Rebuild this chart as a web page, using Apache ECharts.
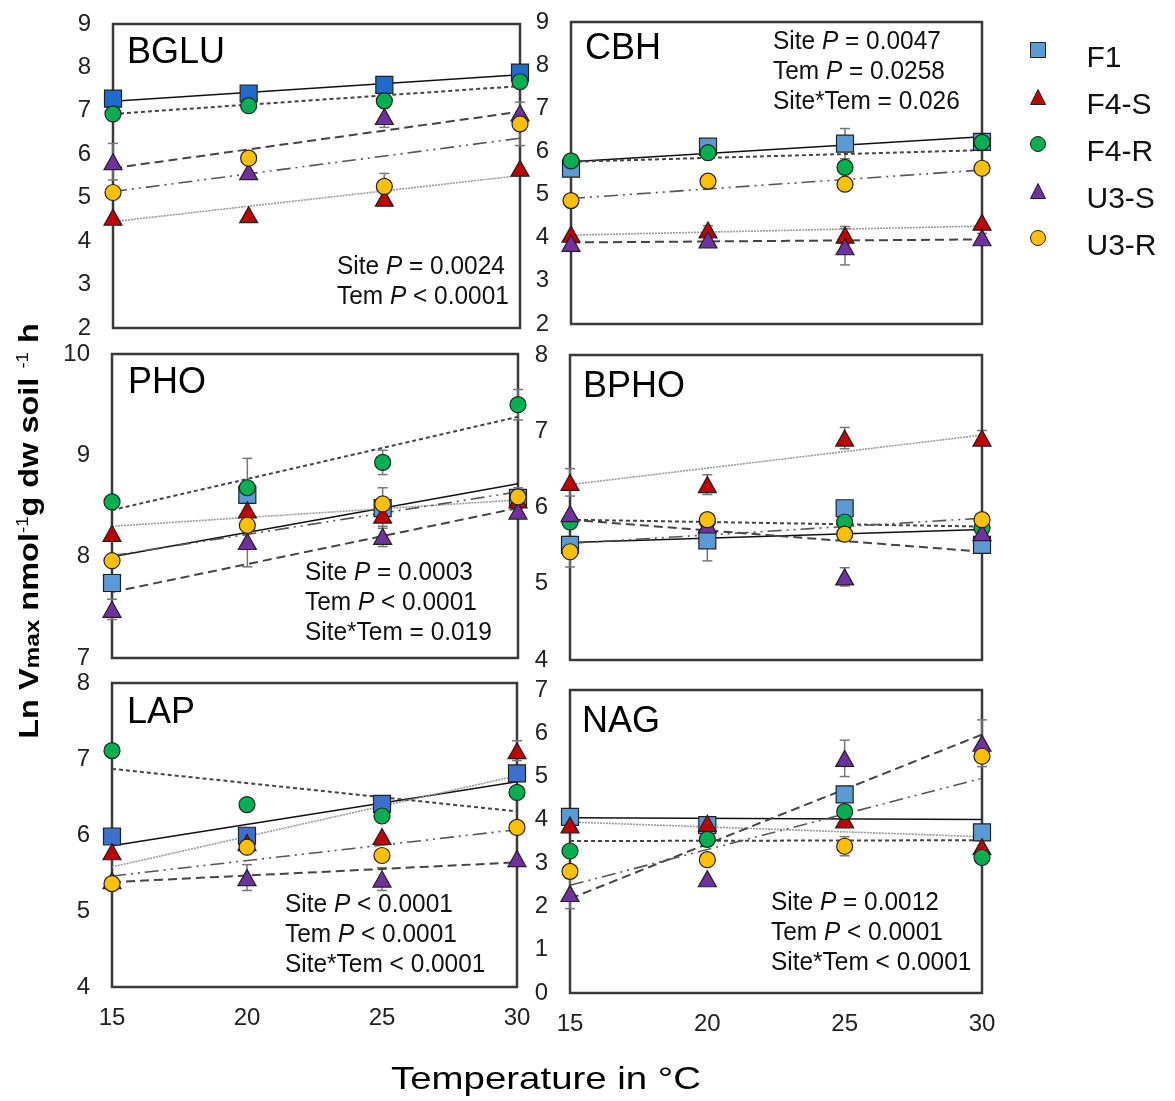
<!DOCTYPE html>
<html>
<head>
<meta charset="utf-8">
<title>Ln Vmax vs temperature</title>
<script src="https://cdn.jsdelivr.net/npm/echarts@6/dist/echarts.min.js"></script>
<style>
  html, body { margin: 0; padding: 0; background: #fff; }
  #chart { width: 1175px; height: 1101px; }
</style>
</head>
<body>
<div id="chart"></div>
<script>
const temps = [15, 20, 25, 30];
const sites = ['F1', 'F4-S', 'F4-R', 'U3-S', 'U3-R'];

// rows follow sites: F1, F4-S, F4-R, U3-S, U3-R ; columns follow temps
const bgluMean = [
  [7.28, 7.40, 7.60, 7.88],
  [4.55, 4.61, 4.99, 5.68],
  [6.93, 7.12, 7.23, 7.67],
  [5.83, 5.60, 6.87, 6.95],
  [5.12, 5.91, 5.26, 6.70]
];
const bgluErr = [
  [0, 0, 0, 0],
  [0, 0, 0.1, 0],
  [0, 0, 0, 0],
  [0.42, 0, 0.25, 0],
  [0, 0, 0.3, 0.5]
];
const bgluFit = [[7.22, 7.83], [4.45, 5.51], [6.93, 7.57], [5.68, 6.98], [5.14, 6.37]];

const cbhMean = [
  [5.60, 6.11, 6.18, 6.22],
  [4.08, 4.18, 4.06, 4.36],
  [5.78, 5.97, 5.63, 6.21],
  [3.87, 3.95, 3.79, 4.00],
  [4.86, 5.31, 5.24, 5.61]
];
const cbhErr = [
  [0, 0, 0.35, 0],
  [0, 0.1, 0.2, 0],
  [0, 0, 0, 0],
  [0, 0.15, 0.42, 0.1],
  [0, 0, 0, 0]
];
const cbhFit = [[5.76, 6.34], [4.06, 4.27], [5.76, 6.03], [3.89, 3.96], [4.91, 5.57]];

const phoMean = [
  [7.74, 8.61, 8.48, 8.58],
  [8.23, 8.46, 8.41, 8.56],
  [8.54, 8.68, 8.93, 9.50],
  [7.48, 8.15, 8.20, 8.45],
  [7.96, 8.31, 8.52, 8.59]
];
const phoErr = [
  [0, 0.36, 0.2, 0.1],
  [0, 0, 0, 0],
  [0, 0, 0.12, 0.15],
  [0.1, 0.25, 0.1, 0],
  [0, 0, 0, 0]
];
const phoFit = [[8.00, 8.72], [8.30, 8.56], [8.46, 9.38], [7.65, 8.48], [8.01, 8.64]];

const bphoMean = [
  [5.51, 5.57, 5.99, 5.51],
  [6.33, 6.30, 6.91, 6.91],
  [5.81, 5.82, 5.81, 5.73],
  [5.92, 5.77, 5.09, 5.67],
  [5.42, 5.84, 5.65, 5.84]
];
const bphoErr = [
  [0, 0.27, 0, 0],
  [0.18, 0.13, 0.14, 0.1],
  [0, 0, 0, 0],
  [0, 0, 0.12, 0],
  [0.2, 0, 0, 0]
];
const bphoFit = [[5.54, 5.71], [6.30, 6.95], [5.84, 5.75], [5.84, 5.42], [5.53, 5.86]];

const lapMean = [
  [5.98, 5.99, 6.41, 6.81],
  [5.78, 5.90, 5.98, 7.11],
  [7.11, 6.40, 6.25, 6.56],
  [5.40, 5.44, 5.42, 5.69],
  [5.36, 5.84, 5.73, 6.10]
];
const lapErr = [
  [0, 0, 0, 0],
  [0, 0, 0, 0.13],
  [0.05, 0, 0, 0],
  [0, 0.17, 0.15, 0],
  [0, 0, 0, 0]
];
const lapFit = [[5.86, 6.70], [5.58, 6.78], [6.87, 6.31], [5.38, 5.64], [5.46, 6.07]];

const nagMean = [
  [4.07, 3.88, 4.59, 3.71],
  [3.88, 3.92, 4.00, 3.38],
  [3.28, 3.55, 4.19, 3.13],
  [2.30, 2.64, 5.42, 5.77],
  [2.81, 3.08, 3.39, 5.47]
];
const nagErr = [
  [0, 0, 0, 0],
  [0, 0, 0, 0],
  [0, 0, 0, 0],
  [0.35, 0, 0.42, 0.54],
  [0, 0, 0.22, 0]
];
const nagFit = [[4.05, 4.01], [3.95, 3.61], [3.51, 3.53], [2.18, 5.97], [2.49, 4.96]];

const FONT = '"Liberation Sans", Arial, sans-serif';

const siteColor = ['#5B9BD5', '#C00000', '#00B050', '#7030A0', '#FFC000'];
const siteSymbol = ['rect', 'triangle', 'circle', 'triangle', 'circle'];
const siteSize = [17, [18, 16], 16, [18, 16], 16];
const fitStyle = [
  { color: '#111', width: 1.5, type: 'solid' },
  { color: '#9a9a9a', width: 1.6, type: [2, 1] },
  { color: '#444', width: 2, type: [4, 3] },
  { color: '#444', width: 2, type: [9, 5] },
  { color: '#555', width: 1.6, type: [14, 5, 2, 5, 2, 5] }
];

const panels = [
  { title: 'BGLU', mean: bgluMean, err: bgluErr, fit: bgluFit, min: 2, max: 9, f1: '#1F6BCB',
    grid: { left: 113, top: 24, width: 407, height: 304 }, titlePos: [127, 53],
    note: 'Site {i|P} = 0.0024\nTem {i|P} < 0.0001', notePos: [337, 252] },
  { title: 'CBH', mean: cbhMean, err: cbhErr, fit: cbhFit, min: 2, max: 9,
    grid: { left: 571, top: 22, width: 411, height: 302 }, titlePos: [585, 49],
    note: 'Site {i|P} = 0.0047\nTem {i|P} = 0.0258\nSite*Tem = 0.026', notePos: [773, 27] },
  { title: 'PHO', mean: phoMean, err: phoErr, fit: phoFit, min: 7, max: 10,
    grid: { left: 112, top: 354, width: 406, height: 304 }, titlePos: [128, 383],
    note: 'Site {i|P} = 0.0003\nTem {i|P} < 0.0001\nSite*Tem = 0.019', notePos: [305, 558] },
  { title: 'BPHO', mean: bphoMean, err: bphoErr, fit: bphoFit, min: 4, max: 8,
    grid: { left: 570, top: 355, width: 412, height: 305 }, titlePos: [583, 387] },
  { title: 'LAP', mean: lapMean, err: lapErr, fit: lapFit, min: 4, max: 8, f1: '#3D6FCC', xLabels: true,
    grid: { left: 112, top: 683, width: 405, height: 304 }, titlePos: [127, 713],
    note: 'Site {i|P} < 0.0001\nTem {i|P} < 0.0001\nSite*Tem < 0.0001', notePos: [285, 890] },
  { title: 'NAG', mean: nagMean, err: nagErr, fit: nagFit, min: 0, max: 7, xLabels: true,
    grid: { left: 570, top: 690, width: 412, height: 303 }, titlePos: [582, 722],
    note: 'Site {i|P} = 0.0012\nTem {i|P} < 0.0001\nSite*Tem < 0.0001', notePos: [771, 888] }
];

function renderErr(params, api) {
  const x = api.value(0), y = api.value(1), e = api.value(2);
  const hi = api.coord([x, y + e]);
  const lo = api.coord([x, y - e]);
  const st = { stroke: '#777', lineWidth: 1.5 };
  return {
    type: 'group',
    children: [
      { type: 'line', shape: { x1: hi[0], y1: hi[1], x2: lo[0], y2: lo[1] }, style: st },
      { type: 'line', shape: { x1: hi[0] - 5, y1: hi[1], x2: hi[0] + 5, y2: hi[1] }, style: st },
      { type: 'line', shape: { x1: lo[0] - 5, y1: lo[1], x2: lo[0] + 5, y2: lo[1] }, style: st }
    ]
  };
}

const grid = [], xAxis = [], yAxis = [], series = [], graphic = [];

panels.forEach((p, k) => {
  grid.push(Object.assign({ show: true, borderColor: '#3a3a3a', borderWidth: 2.5, backgroundColor: '#fff' }, p.grid));
  xAxis.push({
    gridIndex: k, type: 'value', min: 15, max: 30, interval: 5,
    axisLine: { show: false }, axisTick: { show: false }, splitLine: { show: false },
    axisLabel: { show: !!p.xLabels, fontSize: 24, color: '#222', fontFamily: FONT, margin: 19 }
  });
  yAxis.push({
    gridIndex: k, type: 'value', min: p.min, max: p.max, interval: 1,
    axisLine: { show: false }, axisTick: { show: false }, splitLine: { show: false },
    axisLabel: { fontSize: 24, color: '#222', fontFamily: FONT, margin: 22 }
  });

  // error bars first, then regression lines, markers on top
  sites.forEach((s, i) => {
    const errData = [];
    temps.forEach((t, j) => {
      if (p.err[i][j] > 0) errData.push([t, p.mean[i][j], p.err[i][j]]);
    });
    series.push({
      name: s + ' err', type: 'custom', xAxisIndex: k, yAxisIndex: k,
      renderItem: renderErr, data: errData, z: 1, silent: true, clip: false
    });
  });
  sites.forEach((s, i) => {
    series.push({
      name: s + ' fit', type: 'line', xAxisIndex: k, yAxisIndex: k,
      data: [[temps[0], p.fit[i][0]], [temps[temps.length - 1], p.fit[i][1]]],
      showSymbol: false, symbol: 'none', lineStyle: fitStyle[i], z: 2, silent: true, clip: false
    });
  });
  sites.forEach((s, i) => {
    series.push({
      name: s, type: 'scatter', xAxisIndex: k, yAxisIndex: k,
      data: temps.map((t, j) => [t, p.mean[i][j]]),
      symbol: siteSymbol[i], symbolSize: siteSize[i], clip: false, z: 3 + i,
      itemStyle: { color: (i === 0 && p.f1) ? p.f1 : siteColor[i], borderColor: '#222', borderWidth: 1.2, opacity: 1 }
    });
  });

  graphic.push({
    type: 'text', x: p.titlePos[0], y: p.titlePos[1],
    style: { text: p.title, font: '36px ' + FONT, fill: '#000', verticalAlign: 'middle' }
  });
  if (p.note) {
    graphic.push({
      type: 'text', x: p.notePos[0], y: p.notePos[1], scaleX: 0.94,
      style: {
        text: p.note, fill: '#111', fontSize: 26, fontFamily: FONT, lineHeight: 30, verticalAlign: 'top',
        rich: { i: { fontStyle: 'italic', fontSize: 26, fontFamily: FONT, fill: '#111', lineHeight: 30 } }
      }
    });
  }
});

// axis titles
graphic.push({
  type: 'text', x: 30, y: 531, rotation: Math.PI / 2, scaleX: 1.16,
  style: {
    text: 'Ln V{s|max} nmol{u|-1}g dw soil {u|-1} h',
    fontSize: 28, fontWeight: 'bold', fontFamily: FONT, fill: '#000',
    align: 'center', verticalAlign: 'middle',
    rich: {
      s: { fontSize: 21, fontWeight: 'bold', fontFamily: FONT, fill: '#000', verticalAlign: 'bottom' },
      u: { fontSize: 16, fontFamily: FONT, fill: '#000', verticalAlign: 'top' }
    }
  }
});
graphic.push({
  type: 'text', x: 546, y: 1080, scaleX: 1.2,
  style: { text: 'Temperature in \u00B0C', fontSize: 32, fontFamily: FONT, fill: '#000', align: 'center', verticalAlign: 'middle' }
});

const chart = echarts.init(document.getElementById('chart'), null, { renderer: 'canvas' });
chart.setOption({
  backgroundColor: '#fff',
  animation: false,
  grid: grid,
  xAxis: xAxis,
  yAxis: yAxis,
  legend: {
    orient: 'vertical', left: 1025, top: 21,
    itemWidth: 15, itemHeight: 15, itemGap: -1,
    formatter: '{t|{name}}',
    textStyle: {
      rich: { t: { fontSize: 30, color: '#111', fontFamily: FONT, lineHeight: 30, padding: [18, 0, 0, 36] } }
    },
    data: sites.map((s, i) => ({ name: s, icon: siteSymbol[i], itemStyle: { color: siteColor[i], borderColor: '#222', borderWidth: 1 } }))
  },
  graphic: graphic,
  series: series
});
</script>
</body>
</html>
